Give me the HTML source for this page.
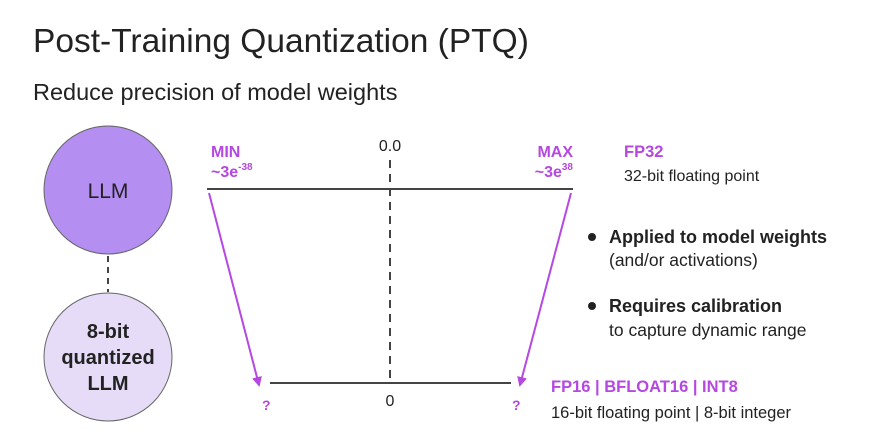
<!DOCTYPE html>
<html><head><meta charset="utf-8"><style>
body{margin:0;background:#fff}
svg{display:block;font-family:"Liberation Sans",sans-serif}
</style></head><body>
<svg width="872" height="437" viewBox="0 0 872 437">
<defs><marker id="ah" markerWidth="10" markerHeight="10" refX="8" refY="5" orient="auto" markerUnits="userSpaceOnUse"><path d="M0,0 L10,5 L0,10 z" fill="#b548e0"/></marker></defs>
<text x="33" y="52" font-size="33.5" fill="#222">Post-Training Quantization (PTQ)</text>
<text x="33" y="100" font-size="23.5" fill="#222">Reduce precision of model weights</text>
<circle cx="108" cy="190" r="64" fill="#b48ef0" stroke="#666" stroke-width="1"/>
<text x="108" y="198" font-size="21" text-anchor="middle" fill="#222">LLM</text>
<line x1="108" y1="256" x2="108" y2="292" stroke="#444" stroke-width="2" stroke-dasharray="6,5"/>
<circle cx="108" cy="357" r="64" fill="#e6dcf8" stroke="#666" stroke-width="1"/>
<text font-size="20" font-weight="bold" text-anchor="middle" fill="#222"><tspan x="108" y="338">8-bit</tspan><tspan x="108" y="364">quantized</tspan><tspan x="108" y="390">LLM</tspan></text>
<line x1="390" y1="160" x2="390" y2="382" stroke="#444" stroke-width="2" stroke-dasharray="8,6"/>
<line x1="207" y1="189" x2="573" y2="189" stroke="#444" stroke-width="2"/>
<line x1="270" y1="383" x2="511" y2="383" stroke="#444" stroke-width="2"/>
<line x1="209" y1="193" x2="259" y2="385" stroke="#b548e0" stroke-width="2" marker-end="url(#ah)"/>
<line x1="571" y1="193" x2="520" y2="385" stroke="#b548e0" stroke-width="2" marker-end="url(#ah)"/>
<text x="390" y="151" font-size="16" text-anchor="middle" fill="#222">0.0</text>
<text x="390" y="406" font-size="16" text-anchor="middle" fill="#222">0</text>
<g fill="#b548e0" font-weight="bold">
<text x="211" y="157" font-size="16">MIN</text>
<text x="211" y="177" font-size="16">~3e<tspan font-size="10" dy="-7">-38</tspan></text>
<text x="573" y="157" font-size="16" text-anchor="end">MAX</text>
<text x="573" y="177" font-size="16" text-anchor="end">~3e<tspan font-size="10" dy="-7">38</tspan></text>
<text x="262" y="410" font-size="14">?</text>
<text x="512" y="410" font-size="14">?</text>
<text x="624" y="157" font-size="16.5">FP32</text>
<text x="551" y="392" font-size="16.5">FP16 | BFLOAT16 | INT8</text>
</g>
<text x="624" y="181" font-size="16" fill="#222">32-bit floating point</text>
<text x="551" y="418" font-size="16.5" fill="#222">16-bit floating point | 8-bit integer</text>
<circle cx="592" cy="237" r="4" fill="#222"/>
<text x="609" y="243" font-size="18" font-weight="bold" fill="#222">Applied to model weights</text>
<text x="609" y="266" font-size="17.5" fill="#222">(and/or activations)</text>
<circle cx="592" cy="306" r="4" fill="#222"/>
<text x="609" y="312" font-size="18" font-weight="bold" fill="#222">Requires calibration</text>
<text x="609" y="336" font-size="17.5" fill="#222">to capture dynamic range</text>
</svg>
</body></html>
